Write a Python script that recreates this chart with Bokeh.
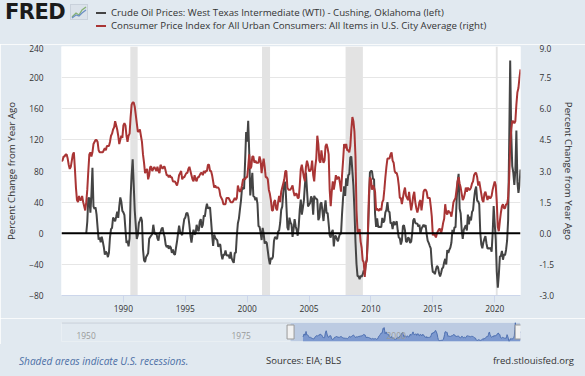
import numpy as np
from bokeh.plotting import figure
from bokeh.models import (Range1d, LinearAxis, FixedTicker, NumeralTickFormatter,
                          BoxAnnotation, Span, Div)
from bokeh.layouts import column
from bokeh.embed import file_html
from bokeh.resources import INLINE
from bokeh.core.properties import value

BG = "#e1e9f0"
FONT = "Open Sans"
BLACK = "#444444"
RED = "#a93535"
L_BORDER, R_BORDER = 61, 65

# ---------------- data ----------------
# CPI, percent change from year ago, monthly from Jan 1985
cpi_start = 1985
cpi_yoy = [
    3.5, 3.5, 3.7, 3.7, 3.8, 3.8, 3.6, 3.3, 3.1, 3.2, 3.5, 3.8,
    3.9, 3.1, 2.2, 1.6, 1.5, 1.8, 1.6, 1.6, 1.8, 1.5, 1.3, 1.1,
    1.5, 2.1, 3.0, 3.8, 3.9, 3.7, 3.9, 4.3, 4.4, 4.5, 4.5, 4.4,
    4.0, 3.9, 3.9, 3.9, 3.9, 4.0, 4.1, 4.0, 4.2, 4.2, 4.2, 4.4,
    4.7, 4.8, 5.0, 5.1, 5.4, 5.2, 5.0, 4.7, 4.3, 4.5, 4.7, 4.6,
    5.2, 5.3, 5.2, 4.7, 4.4, 4.7, 4.8, 5.6, 6.2, 6.3, 6.3, 6.1,
    5.7, 5.3, 4.9, 4.9, 5.0, 4.7, 4.4, 3.8, 3.4, 2.9, 3.0, 3.1,
    2.6, 2.8, 3.2, 3.2, 3.0, 3.1, 3.2, 3.1, 3.0, 3.2, 3.0, 2.9,
    3.3, 3.2, 3.1, 3.2, 3.2, 3.0, 2.8, 2.8, 2.7, 2.8, 2.7, 2.7,
    2.5, 2.5, 2.5, 2.4, 2.3, 2.5, 2.8, 2.9, 3.0, 2.6, 2.7, 2.7,
    2.8, 2.9, 2.9, 3.1, 3.2, 3.0, 2.8, 2.6, 2.5, 2.8, 2.6, 2.5,
    2.7, 2.7, 2.8, 2.9, 2.9, 2.8, 3.0, 2.9, 3.0, 3.0, 3.3, 3.3,
    3.0, 3.0, 2.8, 2.5, 2.2, 2.3, 2.2, 2.2, 2.2, 2.1, 1.8, 1.7,
    1.6, 1.4, 1.4, 1.4, 1.7, 1.7, 1.7, 1.6, 1.5, 1.5, 1.5, 1.6,
    1.7, 1.6, 1.7, 2.3, 2.1, 2.0, 2.1, 2.3, 2.6, 2.6, 2.6, 2.7,
    2.7, 3.2, 3.8, 3.1, 3.2, 3.7, 3.7, 3.4, 3.5, 3.4, 3.4, 3.4,
    3.7, 3.5, 2.9, 3.3, 3.6, 3.2, 2.7, 2.7, 2.6, 2.1, 1.9, 1.6,
    1.1, 1.1, 1.5, 1.6, 1.2, 1.1, 1.5, 1.8, 1.5, 2.0, 2.2, 2.4,
    2.6, 3.0, 3.0, 2.2, 2.1, 2.1, 2.1, 2.2, 2.3, 2.0, 1.8, 1.9,
    1.9, 1.7, 1.7, 2.3, 3.1, 3.3, 3.0, 2.7, 2.5, 3.2, 3.5, 3.3,
    3.0, 3.0, 3.1, 3.5, 2.8, 2.5, 3.2, 3.6, 4.7, 4.3, 3.5, 3.4,
    4.0, 3.6, 3.4, 3.5, 4.2, 4.3, 4.1, 3.8, 2.1, 1.3, 2.0, 2.5,
    2.1, 2.4, 2.8, 2.6, 2.7, 2.7, 2.4, 2.0, 2.8, 3.5, 4.3, 4.1,
    4.3, 4.0, 4.0, 3.9, 4.2, 5.0, 5.6, 5.4, 4.9, 3.7, 1.1, 0.1,
    0.0, 0.2, -0.4, -0.7, -1.3, -1.4, -2.1, -1.5, -1.3, -0.2, 1.8, 2.7,
    2.6, 2.1, 2.3, 2.2, 2.0, 1.1, 1.2, 1.1, 1.1, 1.2, 1.1, 1.5,
    1.6, 2.1, 2.7, 3.2, 3.6, 3.6, 3.6, 3.8, 3.9, 3.5, 3.4, 3.0,
    2.9, 2.9, 2.7, 2.3, 1.7, 1.7, 1.4, 1.7, 2.0, 2.2, 1.8, 1.7,
    1.6, 2.0, 1.5, 1.1, 1.4, 1.8, 2.0, 1.5, 1.2, 1.0, 1.2, 1.5,
    1.6, 1.1, 1.5, 2.0, 2.1, 2.1, 2.0, 1.7, 1.7, 1.7, 1.3, 0.8,
    -0.1, 0.0, -0.1, -0.2, 0.0, 0.1, 0.2, 0.2, 0.0, 0.2, 0.5, 0.7,
    1.4, 1.0, 0.9, 1.1, 1.0, 1.0, 0.8, 1.1, 1.5, 1.6, 1.7, 2.1,
    2.5, 2.7, 2.4, 2.2, 1.9, 1.6, 1.7, 1.9, 2.2, 2.0, 2.2, 2.1,
    2.1, 2.2, 2.4, 2.5, 2.8, 2.9, 2.9, 2.7, 2.3, 2.5, 2.2, 1.9,
    1.6, 1.5, 1.9, 2.0, 1.8, 1.6, 1.8, 1.7, 1.7, 1.8, 2.1, 2.3,
    2.5, 2.3, 1.5, 0.3, 0.1, 0.6, 1.0, 1.3, 1.4, 1.2, 1.2, 1.4,
    1.4, 1.7, 2.6, 4.2, 5.0, 5.4, 5.4, 5.3, 5.4, 6.2, 6.8, 7.0,
    7.5, 7.9,
]

# WTI crude oil price, percent change from year ago, monthly from Jan 1987
wti_start = 1987
wti_yoy = [
    0.0, 14.8, 45.1, 45.5, 26.4, 49.4, 84.1, 34.5, 31.3, 33.3, 23.9, 7.3,
    -8.2, -5.4, -11.5, -4.4, -10.4, -17.6, -27.4, -23.6, -25.5, -30.7, -25.0, -5.2,
    5.2, 6.8, 20.2, 18.0, 15.5, 21.3, 27.6, 19.7, 34.7, 46.0, 40.5, 28.8,
    26.9, 23.2, 4.7, -12.5, -9.5, -16.7, -6.7, 47.0, 75.0, 95.0, 62.8, 29.3,
    10.4, -7.4, -2.4, 13.0, 16.6, 20.9, 16.0, -20.6, -34.7, -37.0, -30.5, -28.5,
    -25.5, -7.2, -4.9, -2.9, -1.2, 10.9, 1.8, -1.6, 0.0, -6.6, -9.4, -0.5,
    1.3, 5.7, 7.4, 0.1, -4.9, -14.7, -17.9, -15.6, -20.0, -16.3, -18.3, -25.2,
    -21.0, -26.4, -27.8, -18.9, -10.3, -0.2, 9.9, 2.1, -0.3, -2.4, 8.8, 18.2,
    20.0, 25.6, 26.3, 21.2, 10.3, -3.2, -11.9, -2.0, 4.5, -1.6, -0.4, 10.9,
    4.5, 2.8, 15.0, 18.1, 7.2, 10.7, 22.9, 21.5, 31.5, 38.0, 31.8, 32.6,
    33.3, 16.2, -1.7, -16.2, -1.7, -5.7, -7.7, -8.9, -17.4, -14.3, -14.8, -27.3,
    -33.5, -27.6, -27.9, -22.1, -28.4, -28.8, -27.9, -32.5, -24.1, -32.2, -35.6, -38.1,
    -25.1, -25.2, -2.9, 12.8, 18.8, 30.6, 41.8, 58.0, 58.4, 56.9, 92.3, 130.0,
    117.7, 144.5, 103.3, 48.6, 62.5, 77.6, 47.8, 46.9, 42.4, 45.9, 37.7, 9.0,
    8.5, 0.8, -8.7, 6.9, -0.6, -13.3, -11.0, -12.4, -22.7, -33.0, -40.0, -31.8,
    -33.4, -30.0, -9.9, -4.8, -5.6, -7.5, 2.0, 3.7, 13.2, 30.1, 34.2, 51.9,
    64.0, 66.0, 36.6, 7.6, 4.0, 20.1, 14.0, 11.2, -4.6, 5.2, 18.1, 9.1,
    4.1, -3.2, 9.6, 30.5, 43.3, 24.0, 32.6, 42.2, 62.3, 78.0, 55.8, 34.3,
    36.5, 38.8, 47.5, 44.2, 23.7, 48.2, 44.7, 44.7, 42.8, 16.9, 20.3, 37.7,
    39.8, 28.0, 15.7, 31.1, 42.2, 25.9, 26.1, 12.4, -2.7, -5.4, 1.3, 4.3,
    -16.8, -3.8, -3.6, -7.9, -10.4, -4.9, -0.4, -0.9, 25.3, 45.7, 60.4, 48.0,
    70.6, 60.9, 74.5, 76.0, 97.6, 98.4, 79.9, 61.2, 30.3, -10.7, -39.5, -55.2,
    -55.1, -59.0, -54.5, -55.9, -52.9, -48.0, -51.9, -39.1, -33.3, -1.2, 36.1, 78.0,
    80.0, 80.0, 69.4, 69.8, 24.9, 8.2, 19.0, 7.8, 8.4, 8.1, 8.0, 19.7,
    13.8, 16.0, 26.7, 29.9, 40.0, 27.8, 27.5, 12.7, 13.7, 5.4, 15.3, 10.6,
    12.4, 15.4, 3.2, -5.7, -6.2, -14.5, -9.7, 9.0, 10.5, 3.7, -10.9, -10.9,
    -5.5, -6.7, -12.5, -10.9, -0.2, 16.4, 19.1, 13.2, 12.5, 12.3, 8.5, 11.1,
    -0.1, 5.8, 8.5, 10.9, 8.1, 10.5, -1.0, -9.4, -12.3, -16.1, -19.3, -39.3,
    -50.1, -49.8, -52.6, -46.7, -42.0, -43.5, -50.9, -55.6, -51.2, -45.2, -44.0, -37.3,
    -32.9, -40.1, -21.5, -25.2, -21.2, -18.5, -12.3, 4.3, -0.7, 7.7, 7.6, 39.7,
    65.7, 76.4, 31.4, 25.3, 3.8, -7.3, 4.4, 7.4, 10.3, 3.6, 24.0, 11.4,
    21.3, 16.4, 27.2, 29.7, 44.3, 55.0, 60.0, 41.7, 41.0, 37.2, 0.6, -14.4,
    -19.3, -11.7, -7.3, -3.6, -13.1, -19.5, -19.2, -19.5, -18.9, -23.7, 0.1, 35.0,
    12.0, -8.0, -49.8, -70.0, -53.0, -29.9, -29.0, -22.8, -34.0, -27.0, -28.2, -21.5,
    -9.6, 16.8, 113.4, 222.0, 128.2, 86.3, 78.1, 62.0, 80.8, 132.0, 66.0, 52.0,
    62.0, 82.0,
]

# recessions (decimal years)
rec_start = [1990.56, 2001.20, 2007.95, 2020.09]
rec_end = [1991.15, 2001.85, 2009.35, 2020.24]

x_ticks = [1990, 1995, 2000, 2005, 2010, 2015, 2020]
left_ticks = [-80, -40, 0, 40, 80, 120, 160, 200, 240]
right_ticks = [-3.0, -1.5, 0.0, 1.5, 3.0, 4.5, 6.0, 7.5, 9.0]
nav_ticks = [1950, 1975, 2000]
legend_labels = [
    "Crude Oil Prices: West Texas Intermediate (WTI) - Cushing, Oklahoma (left)",
    "Consumer Price Index for All Urban Consumers: All Items in U.S. City Average (right)",
]
axis_title = "Percent Change from Year Ago"
footer_note = "Shaded areas indicate U.S. recessions."
footer_source = "Sources: EIA; BLS"
footer_site = "fred.stlouisfed.org"

x_cpi = cpi_start + np.arange(len(cpi_yoy)) / 12.0
x_wti = wti_start + np.arange(len(wti_yoy)) / 12.0
X_END = x_cpi[-1]
X_START = 1985.0
NAV_START = 1948.06

# ---------------- header (HTML strip) ----------------
icon_svg = (
    '<svg width="18" height="16" style="position:absolute;left:70px;top:4px">'
    '<rect x="0.5" y="0.5" width="17" height="15" fill="#dbe2ea" stroke="#c9d1db"/>'
    '<polyline points="2,13 6,9 9,11 12,6 16,3" fill="none" stroke="#86b274" stroke-width="1.3"/>'
    '<polyline points="2,14 6,11 9,12 12,9 16,6" fill="none" stroke="#6b8fc4" stroke-width="1.3"/>'
    '</svg>'
)
legend_colors = [BLACK, RED]
legend_y = [13, 26]
hdr_parts = [
    '<div style="position:relative;width:585px;height:44px;background:%s;overflow:hidden;">' % BG,
    '<span style="position:absolute;left:5px;top:0px;font-family:\'DejaVu Sans\';font-weight:bold;'
    'font-size:21px;line-height:25px;color:#1b1b1b;letter-spacing:-0.5px;">FRED</span>',
    icon_svg,
]
for col, yy, lab in zip(legend_colors, legend_y, legend_labels):
    hdr_parts.append('<span style="position:absolute;left:96px;top:%dpx;width:10px;height:2px;'
                     'background:%s;"></span>' % (yy - 1, col))
    hdr_parts.append('<span style="position:absolute;left:111px;top:%dpx;font-family:\'Open Sans\';'
                     'font-size:9.7px;line-height:14px;color:#333333;white-space:nowrap;">%s</span>'
                     % (yy - 7, lab))
hdr_parts.append('</div>')
hdr = Div(text="".join(hdr_parts), width=585, height=44, margin=0)

# ---------------- main chart ----------------
p = figure(width=585, height=274, x_range=Range1d(X_START, X_END), y_range=Range1d(-80, 240),
           output_backend="svg", toolbar_location=None,
           min_border_left=L_BORDER, min_border_right=R_BORDER,
           min_border_top=2, min_border_bottom=23)
p.extra_y_ranges = {"cpi": Range1d(-3, 9)}
p.background_fill_color = "white"
p.border_fill_color = BG
p.outline_line_color = None

for s, e in zip(rec_start, rec_end):
    p.add_layout(BoxAnnotation(left=s, right=e, fill_color="#e3e3e3", fill_alpha=1.0,
                               line_color=None, level="underlay"))

p.line(x_wti, wti_yoy, line_color=BLACK, line_width=2)
p.line(x_cpi, cpi_yoy, line_color=RED, line_width=2, y_range_name="cpi")
p.add_layout(Span(location=0, dimension="width", line_color="black", line_width=2))

p.xgrid.grid_line_color = None
p.ygrid.grid_line_color = "#e6e6e6"

p.xaxis.ticker = FixedTicker(ticks=x_ticks)
p.xaxis.axis_line_color = "#ccd6eb"
p.xaxis.major_tick_line_color = "#ccd6eb"
p.xaxis.major_tick_out = 7
p.xaxis.major_tick_in = 0
p.xaxis.minor_tick_line_color = None
p.xaxis.major_label_standoff = 2
p.xaxis.major_label_text_font = FONT
p.xaxis.major_label_text_font_size = "8.4px"
p.xaxis.major_label_text_color = "#333333"

p.yaxis.ticker = FixedTicker(ticks=left_ticks)
right = LinearAxis(y_range_name="cpi", ticker=FixedTicker(ticks=right_ticks),
                   formatter=NumeralTickFormatter(format="0.0"))
p.add_layout(right, "right")
for ax, col, std, tstd in ((p.yaxis[0], "#333333", 12, 8), (right, "#333333", 13, 5)):
    ax.axis_line_color = None
    ax.major_tick_line_color = None
    ax.minor_tick_line_color = None
    ax.major_label_standoff = std
    ax.major_label_text_font = FONT
    ax.major_label_text_font_size = "8.4px"
    ax.major_label_text_color = "#333333"
    ax.axis_label = axis_title
    ax.axis_label_text_font = FONT
    ax.axis_label_text_font_size = "9.7px"
    ax.axis_label_text_font_style = "normal"
    ax.axis_label_text_color = col
    ax.axis_label_standoff = tstd

# ---------------- navigator ----------------
ymin, ymax = min(wti_yoy), max(wti_yoy)
nav = figure(width=585, height=26, x_range=Range1d(NAV_START, X_END), y_range=Range1d(ymin, ymax),
             output_backend="svg", toolbar_location=None, x_axis_type=None, y_axis_type=None,
             min_border_left=L_BORDER, min_border_right=R_BORDER, min_border_top=4, min_border_bottom=3)
nav.background_fill_color = BG
nav.border_fill_color = BG
nav.outline_line_color = None
nav.grid.visible = False
nav.quad(left=[X_START], right=[X_END], bottom=[ymin], top=[ymax], fill_color="#bccbe2", line_color=None)
nav.varea(x=x_wti, y1=ymin, y2=wti_yoy, fill_color="#7d99cf")
nav.line(x_wti, wti_yoy, line_color="#4d6fb0", line_width=1)
nav.line([NAV_START, X_START], [ymax, ymax], line_color="#c6ced8", line_width=2)
lab_y = ymin + 0.32 * (ymax - ymin)
nav.text(x=nav_ticks, y=[lab_y] * len(nav_ticks), text=[str(t) for t in nav_ticks],
         x_offset=3, text_font=value(FONT), text_font_size="8.4px", text_color="#999999",
         text_baseline="middle")
nav.rect(x=[X_START, X_END - 0.3], y=[(ymin + ymax) / 2] * 2, width=7, height=14,
         width_units="screen", height_units="screen", fill_color="#f2f2f2", line_color="#999999")

# ---------------- footer (HTML strip) ----------------
fspan = ('position:absolute;top:10px;font-family:\'Open Sans\';line-height:14px;'
         'white-space:nowrap;')
ftr_html = (
    '<div style="position:relative;width:585px;height:32px;background:%s;overflow:hidden;">' % BG
    + '<span style="%sleft:19px;font-size:10.1px;color:#4c6fa6;font-style:italic;">%s</span>'
    % (fspan, footer_note)
    + '<span style="%sleft:266px;font-size:9.5px;color:#333333;">%s</span>' % (fspan, footer_source)
    + '<span style="%sright:11px;font-size:9.5px;color:#333333;">%s</span>' % (fspan, footer_site)
    + '</div>'
)
ftr = Div(text=ftr_html, width=585, height=32, margin=0)

layout = column(hdr, p, nav, ftr, spacing=0)
open("out.html", "w").write(file_html(layout, INLINE))
